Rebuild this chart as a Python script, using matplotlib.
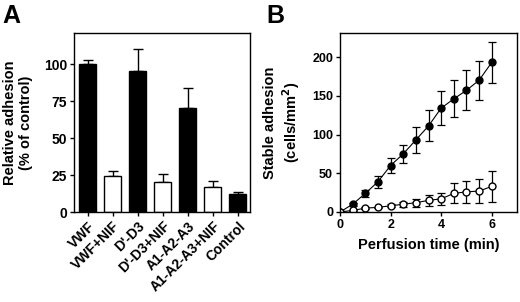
import matplotlib
matplotlib.use("Agg")
import matplotlib.pyplot as plt
import numpy as np

plt.rcParams['font.family'] = ['Liberation Sans', 'DejaVu Sans']
plt.rcParams['font.weight'] = 'bold'

# panel A data
groups = ["VWF", "VWF+NIF", "D'-D3", "D'-D3+NIF", "A1-A2-A3", "A1-A2-A3+NIF", "Control"]
adhesion = [100, 24, 95, 20, 70, 17, 12]
adhesion_err = [3, 4, 15, 6, 14, 4, 1.5]
filled = [True, False, True, False, True, False, True]

# panel B data
time_min = [0, 0.5, 1, 1.5, 2, 2.5, 3, 3.5, 4, 4.5, 5, 5.5, 6]
vwf_cells = [0, 10, 24, 39, 60, 75, 93, 111, 134, 146, 157, 170, 193]
vwf_err = [0, 2, 5, 8, 10, 12, 17, 20, 22, 24, 26, 25, 27]
nif_cells = [0, 2, 5, 6, 8, 10, 12, 15, 17, 24, 26, 27, 33]
nif_err = [0, 1, 1, 1, 2, 3, 5, 7, 8, 13, 14, 16, 20]

fig = plt.figure(figsize=(5.2, 3.02), dpi=100)
W, H = 520.0, 302.0

#panel A
axA = fig.add_axes([74/W, 1-212/H, 176/W, 179/H])
x = np.arange(len(groups))
cols = ['black' if f else 'white' for f in filled]
axA.bar(x, adhesion, width=0.68, color=cols, edgecolor='black', linewidth=1.0, zorder=2)
axA.errorbar(x, adhesion, yerr=[np.zeros(len(x)), adhesion_err], fmt='none',
             ecolor='black', elinewidth=1.0, capsize=3.5, capthick=1.0, zorder=1)
axA.set_xlim(-0.54, 6.48)
axA.set_ylim(0, 121)
axA.set_yticks([0, 25, 50, 75, 100])
axA.set_xticks(x)
axA.set_xticklabels(groups, rotation=45, ha='right', rotation_mode='anchor')
axA.set_ylabel("Relative adhesion\n(% of control)", fontsize=10.5, fontweight='bold')
axA.yaxis.set_label_coords(-0.233, 0.5)
axA.tick_params(labelsize=10, length=3, width=1, pad=2)
for s in axA.spines.values():
    s.set_linewidth(1.0)

#panel B
axB = fig.add_axes([340/W, 1-212/H, 177/W, 179/H])
axB.errorbar(time_min, vwf_cells, yerr=vwf_err, fmt='-o', color='black', mfc='black',
             ms=5, lw=0.8, elinewidth=0.9, capsize=3, capthick=0.9)
axB.errorbar(time_min, nif_cells, yerr=nif_err, fmt='-o', color='black', mfc='white',
             ms=5, lw=0.8, elinewidth=0.9, capsize=3, capthick=0.9)
axB.set_xlim(0, 7)
axB.set_ylim(0, 231)
axB.set_xticks([0, 2, 4, 6])
axB.set_yticks([0, 50, 100, 150, 200])
axB.set_xlabel("Perfusion time (min)", fontsize=10.5, fontweight='bold')
axB.xaxis.set_label_coords(0.5, -0.145)
axB.set_ylabel("Stable adhesion\n(cells/mm$^\\mathbf{2}$)", fontsize=10.5, fontweight='bold')
axB.yaxis.set_label_coords(-0.215, 0.5)
axB.tick_params(labelsize=9, length=3, width=1, pad=2)
for s in axB.spines.values():
    s.set_linewidth(1.0)

fig.text(2/W, 1-23/H, "A", fontsize=18, fontweight='bold', va='baseline')
fig.text(266/W, 1-23/H, "B", fontsize=18, fontweight='bold', va='baseline')

fig.savefig("out.png", dpi=100)
